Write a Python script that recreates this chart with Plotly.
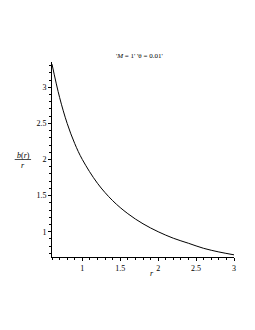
import plotly.graph_objects as go

r_vals = [0.6, 0.7, 0.8, 0.9, 1.0, 1.2, 1.4, 1.6, 1.8, 2.0, 2.2, 2.4, 2.6, 2.8, 3.0]
b_over_r = [3.32, 2.86, 2.50, 2.22, 2.00, 1.67, 1.43, 1.25, 1.11, 1.00, 0.91, 0.84, 0.77, 0.72, 0.68]

x_ticks = [1, 1.5, 2, 2.5, 3]
x_tick_text = ["1", "1.5", "2", "2.5", "3"]
y_ticks = [1, 1.5, 2, 2.5, 3]
y_tick_text = ["1", "1.5", "2", "2.5", "3"]

title_text = "'<i>M</i> = 1' 'θ = 0.01'"

font_family = "Liberation Serif"

fig = go.Figure()
fig.add_trace(go.Scatter(
    x=r_vals, y=b_over_r, mode="lines",
    line=dict(color="black", width=1, shape="spline", smoothing=1.0),
    hoverinfo="skip", showlegend=False,
))

axis_common = dict(
    showgrid=False, zeroline=False, showline=True, linecolor="black", linewidth=1,
    ticks="outside", ticklen=3, tickwidth=1, tickcolor="black",
    tickfont=dict(family=font_family, size=8, color="#000000"),
    minor=dict(dtick=0.1, ticks="outside", ticklen=2, tickcolor="black", tickwidth=1, showgrid=False),
)

fig.update_layout(
    width=247, height=322,
    margin=dict(l=44, r=21, t=54, b=73),
    paper_bgcolor="white", plot_bgcolor="white",
    font=dict(family=font_family, size=8, color="#000000"),
    xaxis=dict(range=[0.6, 3.0], tickvals=x_ticks, ticktext=x_tick_text, **axis_common),
    yaxis=dict(range=[0.65, 3.35], tickvals=y_ticks, ticktext=y_tick_text, **axis_common),
)

# title
fig.add_annotation(text=title_text, xref="paper", yref="paper", x=0.48, y=1.0, yshift=0,
                   showarrow=False, font=dict(family=font_family, size=7, color="#000000"),
                   xanchor="center", yanchor="bottom")
# x label
fig.add_annotation(text="<i>r</i>", xref="paper", yref="paper", x=0.55, y=0, yshift=-10,
                   showarrow=False, font=dict(family=font_family, size=8, color="#000000"),
                   xanchor="center", yanchor="top")
# y label as fraction
fig.add_annotation(text="<i>b</i>(<i>r</i>)", xref="paper", yref="y", x=0, xshift=-29, y=2.0, yshift=-2,
                   showarrow=False, font=dict(family=font_family, size=8, color="#000000"),
                   xanchor="center", yanchor="bottom")
fig.add_annotation(text="<i>r</i>", xref="paper", yref="y", x=0, xshift=-29, y=2.0, yshift=1,
                   showarrow=False, font=dict(family=font_family, size=8, color="#000000"),
                   xanchor="center", yanchor="top")
fig.add_shape(type="line", xref="paper", yref="y", x0=-0.205, x1=-0.115, y0=2.0, y1=2.0,
              line=dict(color="black", width=0.7))

fig.write_html("out.html")
